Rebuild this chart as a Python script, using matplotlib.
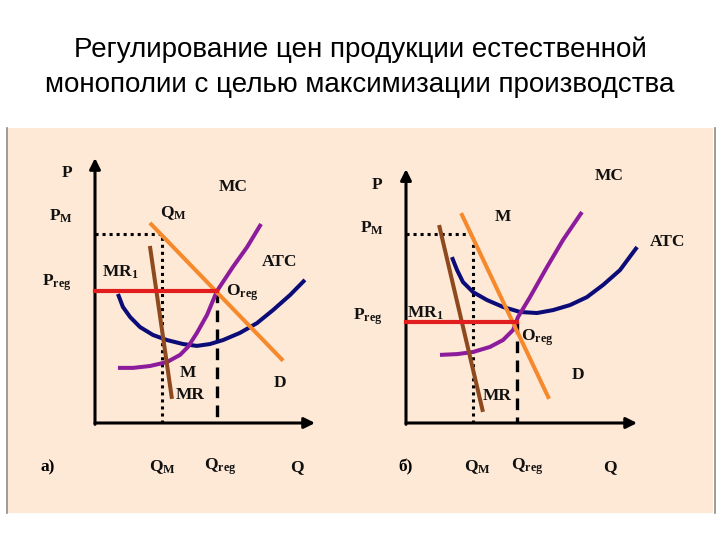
import matplotlib
matplotlib.use("Agg")
import matplotlib.pyplot as plt
from matplotlib.patches import Rectangle

plt.rcParams['mathtext.fontset'] = 'custom'
plt.rcParams['mathtext.rm'] = 'Liberation Serif:bold'
plt.rcParams['mathtext.it'] = 'Liberation Serif:bold'
plt.rcParams['mathtext.bf'] = 'Liberation Serif:bold'

# ---- chart a) : data in Q / P units ----
a_pm, a_qm = 7.13, 2.98
a_preg, a_qreg = 4.98, 5.42
a_d_q = [2.44, 8.36]
a_d_p = [7.55, 2.35]
a_mr_q = [2.44, 3.42]
a_mr_p = [6.68, 0.91]
a_mc_q = [1.02, 1.69, 2.44, 3.2, 3.78, 4.13, 4.53, 4.98, 5.42, 6.13, 6.76, 7.38]
a_mc_p = [2.08, 2.08, 2.15, 2.30, 2.57, 2.87, 3.40, 4.08, 4.98, 5.89, 6.64, 7.51]
a_atc_q = [1.02, 1.24, 1.56, 2.0, 2.58, 3.2, 3.91, 4.53, 5.11, 5.69, 6.44, 7.2, 7.91, 8.67, 9.33]
a_atc_p = [4.87, 4.38, 4.0, 3.62, 3.32, 3.13, 2.98, 2.91, 2.98, 3.13, 3.40, 3.77, 4.26, 4.83, 5.40]

# ---- chart б) ----
b_pm, b_qm = 7.13, 2.98
b_preg, b_qreg = 3.81, 4.93
b_d_q = [2.45, 6.36]
b_d_p = [7.92, 0.91]
b_mr_q = [1.47, 3.42]
b_mr_p = [7.47, 0.42]
b_mc_q = [1.51, 2.27, 2.98, 3.73, 4.31, 4.76, 4.98, 5.51, 6.27, 6.98, 7.82]
b_mc_p = [2.57, 2.60, 2.68, 2.87, 3.13, 3.51, 4.0, 4.75, 5.89, 6.91, 7.96]
b_atc_q = [2.04, 2.27, 2.53, 2.98, 3.6, 4.31, 5.07, 5.82, 6.53, 7.29, 8.04, 8.76, 9.51, 10.27]
b_atc_p = [6.26, 5.77, 5.32, 4.94, 4.64, 4.38, 4.19, 4.15, 4.26, 4.45, 4.75, 5.21, 5.77, 6.64]

# labels: (text, Q, P)
a_labels = [("P", -1.24, 9.43), ("P$_\\mathrm{M}$", -1.51, 7.81), ("P$_\\mathrm{reg}$", -1.69, 5.28),
            ("MR$_1$", 1.11, 5.70), ("Q$_\\mathrm{M}$", 3.47, 7.92), ("MC", 6.13, 8.91),
            ("ATC", 8.22, 6.08), ("O$_\\mathrm{reg}$", 6.53, 4.91), ("D", 8.22, 1.51),
            ("M", 4.13, 1.89), ("MR", 4.22, 1.06),
            ("Q$_\\mathrm{M}$", 2.98, -1.66), ("Q$_\\mathrm{reg}$", 5.56, -1.66), ("Q", 8.98, -1.66)]
b_labels = [("P", -1.29, 8.98), ("P$_\\mathrm{M}$", -1.51, 7.36), ("P$_\\mathrm{reg}$", -1.69, 4.0),
            ("MR$_1$", 0.84, 4.15), ("M", 4.31, 7.77), ("MC", 9.02, 9.32),
            ("ATC", 11.64, 6.83), ("O$_\\mathrm{reg}$", 5.82, 3.21), ("D", 7.64, 1.81),
            ("MR", 4.04, 1.02),
            ("Q$_\\mathrm{M}$", 3.16, -1.66), ("Q$_\\mathrm{reg}$", 5.38, -1.66), ("Q", 9.07, -1.66)]

SX, SY = 22.5, 26.5   # pixels per unit
W, H = 720, 540

fig = plt.figure(figsize=(7.2, 5.4), dpi=100)
fig.patch.set_facecolor('white')

# beige panel
fig.add_artist(Rectangle((8 / W, 1 - 513 / H), (713 - 8) / W, (513 - 128) / H,
                         transform=fig.transFigure, facecolor='#FEE9D6', edgecolor='none', zorder=0))
for xp in (7, 715):
    fig.add_artist(plt.Line2D([xp / W, xp / W], [1 - 128 / H, 1 - 513 / H], transform=fig.transFigure,
                              color='#8a8a8a', lw=1.2, zorder=1))

fig.text(0.5, 1 - 57 / H, "Регулирование цен продукции естественной",
         ha='center', va='baseline', fontsize=20, family='Liberation Sans')
fig.text(0.5, 1 - 92 / H, "монополии с целью максимизации производства",
         ha='center', va='baseline', fontsize=20, family='Liberation Sans')


def make_axes(ox, oy, xlim, ylim):
    left = ox + xlim[0] * SX
    right = ox + xlim[1] * SX
    bottom = oy - ylim[0] * SY
    top = oy - ylim[1] * SY
    ax = fig.add_axes([left / W, 1 - bottom / H, (right - left) / W, (bottom - top) / H])
    ax.set_xlim(xlim)
    ax.set_ylim(ylim)
    ax.axis('off')
    ax.patch.set_alpha(0)
    return ax


def draw_chart(ax, xmax, ymax, pm, qm, preg, qreg, dq, dp, mrq, mrp, mcq, mcp, atcq, atcp, labels, tag):
    lw = 2.9
    ax.plot(atcq, atcp, color='#0c0c78', lw=lw, solid_capstyle='butt', solid_joinstyle='round', zorder=3)
    ax.plot(mcq, mcp, color='#8c1c9c', lw=lw, solid_capstyle='butt', solid_joinstyle='round', zorder=4)
    ax.plot(dq, dp, color='#f5892c', lw=lw, solid_capstyle='butt', zorder=5)
    ax.plot(mrq, mrp, color='#8e4a1e', lw=lw, solid_capstyle='butt', zorder=6)
    # dotted monopoly lines
    ax.plot([0, qm, qm], [pm, pm, 0], color='black', lw=2.2, ls=(0, (1, 1.3)), zorder=2)
    # regulated price
    ax.plot([0, qreg], [preg, preg], color='#e21d1d', lw=3.0, zorder=7)
    ax.plot([qreg, qreg], [preg, 0], color='black', lw=2.4, ls=(0, (3.5, 2.2)), zorder=2)
    # axes with arrows
    ax.annotate('', xy=(xmax, 0), xytext=(0, 0),
                arrowprops=dict(arrowstyle='-|>', color='black', lw=2.2, mutation_scale=16, shrinkA=0, shrinkB=0))
    ax.annotate('', xy=(0, ymax), xytext=(0, -0.05),
                arrowprops=dict(arrowstyle='-|>', color='black', lw=2.2, mutation_scale=16, shrinkA=0, shrinkB=0))
    for txt, x, y in labels:
        ax.text(x, y, txt, ha='center', va='center', fontsize=12.5, family='Liberation Serif',
                fontweight='bold', color='#111111', zorder=8)
    ax.text(tag[1], tag[2], tag[0], ha='center', va='center', fontsize=12.5, family='Liberation Serif',
            fontweight='bold')


ax_a = make_axes(95, 423, (-3, 11), (-2.5, 11))
draw_chart(ax_a, 9.78, 10.0, a_pm, a_qm, a_preg, a_qreg, a_d_q, a_d_p, a_mr_q, a_mr_p,
           a_mc_q, a_mc_p, a_atc_q, a_atc_p, a_labels, ("а)", -2.09, -1.66))

ax_b = make_axes(406, 423, (-3, 12.6), (-2.5, 11))
draw_chart(ax_b, 10.27, 9.58, b_pm, b_qm, b_preg, b_qreg, b_d_q, b_d_p, b_mr_q, b_mr_p,
           b_mc_q, b_mc_p, b_atc_q, b_atc_p, b_labels, ("б)", -0.04, -1.66))

fig.savefig("out.png", dpi=100)
